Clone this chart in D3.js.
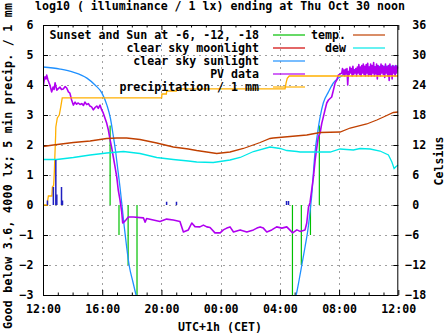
<!DOCTYPE html>
<html><head><meta charset="utf-8">
<script src="https://cdn.jsdelivr.net/npm/d3@7"></script>
<style>
body{margin:0;background:#fff}
text{font-family:"DejaVu Sans Mono",monospace;font-weight:bold;font-size:11.6px;fill:#000}
</style>
</head><body>
<svg id="c" width="447" height="335"></svg>
<script>
// ---------------- data ----------------
const title = "log10 ( illuminance / 1 lx) ending at Thu Oct 30 noon";
const yLabel = "Good below 3.6, 4000 lx; 5 min precip. / 1 mm";
const y2Label = "Celsius";
const xLabel = "UTC+1h (CET)";
const xTickLabels = ["12:00","16:00","20:00","00:00","04:00","08:00","12:00"];
const yTicks = [-3,-2,-1,0,1,2,3,4,5,6];
const y2Ticks = [-18,-12,-6,0,6,12,18,24,30,36];
const legendLeft = ["Sunset and Sun at -6, -12, -18","clear sky moonlight","clear sky sunlight","PV data","precipitation / 1 mm"];
const legendRight = ["temp.","dew"];

// sunset / sunrise and sun at -6, -12, -18 degrees (impulses)
const sunEvents = [["16:32",2.65],["17:08",-1],["17:45",-2],["18:21",-3],
                   ["04:51",-3],["05:27",-2],["06:04",-1],["06:40",2.65]];
// clear sky moonlight (below the plotted range)
const moonlight = [];
// clear sky sunlight
const sunlight = [["12:00",4.6],["13:09",4.53],["14:02",4.43],["14:58",4.23],["15:31",4.0],["15:59",3.73],
  ["16:19",3.33],["16:33",2.9],["16:44",2.35],["16:54",1.8],["17:03",1.2],["17:12",0.6],["17:20",0.0],
  ["17:29",-0.7],["17:39",-1.4],["17:50",-2.05],["18:04",-2.55],["18:17",-3.0],["18:30",-3.45]];
const sunlightMorning = [["04:54",-3.3],["05:06",-3.0],["05:18",-2.5],["05:30",-1.95],["05:42",-1.4],
  ["05:54",-0.8],["06:04",-0.1],["06:11",0.5],["06:17",1.2],["06:23",1.8],["06:31",2.3],["06:43",2.93],
  ["06:56",3.4],["07:17",3.77],["07:37",4.07],["08:04",4.27],["08:45",4.47],["09:37",4.57],["10:46",4.62],["12:00",4.63]];
// PV data
const pv = [["12:00",3.9],["12:04",4.12],["12:08",4.27],["12:12",4.2],["12:15",4.33],["12:20",4.17],["12:24",4.08],
  ["12:28",4.0],["12:35",3.77],["12:41",3.93],["12:45",3.85],["12:49",4.07],["12:56",3.83],["13:02",3.88],["13:09",3.93],
  ["13:15",3.85],["13:22",3.87],["13:30",3.95],["13:36",3.9],["13:43",3.77],["13:49",3.73],["13:56",3.5],["14:03",3.33],
  ["14:10",3.43],["14:16",3.36],["14:23",3.4],["14:30",3.35],["14:37",3.38],["14:44",3.32],["14:50",3.43],["14:57",3.35],
  ["15:04",3.38],["15:10",3.3],["15:17",3.27],["15:24",3.17],["15:31",3.25],["15:38",3.3],["15:44",3.22],["15:51",3.33],
  ["15:58",3.17],["16:04",3.07],["16:11",2.9],["16:18",2.73],["16:25",2.5],["16:32",2.17],["16:38",1.93],["16:45",1.6],
  ["16:52",1.27],["16:59",0.93],["17:05",0.5],["17:12",0.17],["17:19",-0.23],["17:23",-0.6],["17:28",-0.57],["17:36",-0.5],
  ["17:46",-0.4],["18:06",-0.4],["18:47",-0.43],["18:54",-0.57],["19:00",-0.45],["19:27",-0.5],["19:54",-0.55],
  ["20:21",-0.47],["20:48",-0.5],["21:15",-0.55],["21:29",-0.9],["21:49",-0.83],["22:03",-0.6],["22:16",-0.72],
  ["22:36",-0.73],["22:50",-0.67],["23:04",-0.73],["23:17",-0.75],["23:37",-0.93],["23:58",-0.93],["00:11",-0.83],
  ["00:25",-0.77],["00:38",-0.73],["00:52",-0.9],["01:19",-0.83],["01:46",-0.9],["02:13",-0.83],["02:27",-0.77],
  ["02:40",-0.73],["02:53",-0.77],["03:07",-0.9],["03:27",-0.83],["03:47",-0.73],["04:08",-0.77],["04:28",-0.73],
  ["04:52",-0.93],["05:09",-0.83],["05:22",-0.88],["05:42",-0.83],["05:49",-0.6],["05:56",-0.07],["06:02",0.07],
  ["06:09",0.5],["06:16",0.93],["06:23",1.5],["06:30",1.93],["06:36",2.27],["06:43",2.4],["06:50",2.73],["06:56",2.93],
  ["07:03",3.17],["07:10",3.4],["07:17",3.5],["07:30",3.6],["07:37",3.83],["07:44",4.07],["07:51",4.17],["07:57",4.33],
  ["08:11",4.4],["08:14",4.55],["08:17",4.35],["08:20",4.5],["08:23",4.3],["08:26",4.52],["08:29",4.38],["08:32",4.55],
  ["08:35",4.0],["08:38",4.45],["08:41",4.35],["08:44",4.6],["08:47",4.4],["08:50",4.55],["08:53",4.3],["08:56",4.62],
  ["08:59",4.35],["09:02",4.5],["09:05",4.4],["09:08",4.55],["09:11",4.3],["09:14",4.6],["09:17",4.4],["09:20",4.68],
  ["09:23",4.35],["09:26",4.6],["09:29",4.3],["09:32",4.65],["09:35",4.4],["09:38",4.7],["09:41",4.35],["09:44",4.62],
  ["09:47",4.3],["09:50",4.68],["09:53",4.4],["09:56",4.72],["09:59",4.3],["10:02",4.6],["10:05",4.35],["10:08",4.7],
  ["10:11",4.3],["10:14",4.65],["10:17",4.4],["10:20",4.75],["10:23",4.3],["10:26",4.6],["10:29",4.38],["10:32",4.7],
  ["10:35",4.2],["10:38",4.65],["10:41",4.35],["10:44",4.6],["10:47",4.3],["10:50",4.7],["10:53",4.4],["10:56",4.65],
  ["10:59",4.35],["11:02",4.6],["11:05",4.25],["11:08",4.7],["11:11",4.4],["11:14",4.6],["11:17",4.3],["11:20",4.65],
  ["11:23",4.15],["11:26",4.7],["11:29",4.35],["11:32",4.6],["11:35",4.2],["11:38",4.65],["11:41",4.4],["11:44",4.6],
  ["11:47",4.3],["11:50",4.65],["11:53",4.4],["11:56",4.6],["12:00",4.55]];
// cumulative precipitation / 1 mm
const precipCum = [["12:00",0],["12:18",0],["12:19",0.15],["12:22",0.3],["12:36",0.3],["12:38",0.6],["12:43",0.65],
  ["12:46",1.1],["12:48",1.6],["12:51",2.27],["12:52",2.6],["12:58",2.9],["13:06",3.0],["13:12",3.27],["13:18",3.57],
  ["20:01",3.57],["20:02",3.7],["20:20",3.7],["20:21",3.8],["21:00",3.8],["21:01",3.87],["04:21",3.87],["04:25",4.06],
  ["04:30",4.22],["04:38",4.3],["12:00",4.3]];
// 5 min precipitation bars
const precipBars = [["12:18",0.15],["12:42",0.6],["12:52",1.5],["12:56",0.35],["13:15",0.6],["13:19",0.15],
  ["20:21",0.11],["21:01",0.11],["04:27",0.13],["04:35",0.13]];
// temperature and dew point, Celsius
const temp = [["12:00",11.7],["12:42",12.0],["14:03",12.5],["15:11",12.8],["16:18",13.3],["16:59",13.4],["17:39",13.4],
  ["18:33",13.1],["19:41",12.4],["20:48",11.6],["21:49",11.2],["22:23",10.9],["23:44",10.3],["00:38",10.6],["01:32",11.3],
  ["02:40",12.5],["03:20",13.3],["03:33",13.4],["04:41",13.7],["05:49",14.0],["06:43",14.5],["08:04",14.6],["08:45",15.4],
  ["09:52",16.2],["10:33",17.0],["11:00",17.6],["11:40",18.5],["12:00",18.6]];
const dew = [["12:00",9.1],["12:56",9.1],["14:03",9.5],["15:11",10.0],["16:18",10.4],["17:26",10.7],["18:33",10.3],
  ["19:41",9.5],["20:48",9.1],["21:49",8.8],["22:23",8.6],["23:30",8.5],["00:38",9.0],["01:19",9.5],["02:13",10.7],
  ["03:20",11.6],["04:01",11.3],["04:28",10.9],["05:09",10.7],["05:22",10.6],["07:24",10.6],["08:04",11.2],["08:58",11.0],
  ["09:25",11.3],["10:06",11.2],["10:46",10.8],["11:20",10.0],["11:34",8.6],["11:43",7.3],["11:51",7.7],["12:00",8.0]];

// ---------------- helpers ----------------
function parseSeries(arr){
  let prev = -Infinity;
  return arr.map(([s,v])=>{
    const [H,M] = s.split(":").map(Number);
    let h = ((H-12+24)%24) + M/60;
    if (h < prev - 1e-9) h += 24;
    prev = h;
    return {t:h, v:v};
  });
}

const W = 447, H = 335;
const m = {l:43, r:398.3, t:25, b:295};
const svg = d3.select("#c");
const x = d3.scaleLinear().domain([0,24]).range([m.l, m.r]);
const y = d3.scaleLinear().domain([-3,6]).range([m.b, m.t]);
const y2 = d3.scaleLinear().domain([-18,36]).range([m.b, m.t]);

const col = {sun:"#00c000", moon:"#d00000", sunlight:"#1e90ff", pv:"#b000f0", precip:"#ffb000",
             temp:"#c04000", dew:"#00e8e8", bars:"#2020c0"};

svg.append("defs").append("clipPath").attr("id","clip")
  .append("rect").attr("x",m.l).attr("y",m.t).attr("width",m.r-m.l).attr("height",m.b-m.t);

// grid
const grid = svg.append("g").attr("stroke","#a0a0a0").attr("stroke-dasharray","2,4").attr("stroke-width",1);
[4,8,12,16,20].forEach(h=>{
  grid.append("line").attr("x1",Math.round(x(h))+0.5).attr("x2",Math.round(x(h))+0.5).attr("y1",m.t).attr("y2",m.b);
});
yTicks.filter(v=>v>-3 && v<6).forEach(v=>{
  grid.append("line").attr("y1",Math.round(y(v))+0.5).attr("y2",Math.round(y(v))+0.5).attr("x1",m.l).attr("x2",m.r);
});

// axes
const majorX = d3.range(0,25,4);
const minorX = d3.range(0,25,1).filter(h=>h%4!==0);
const fmtX = (d)=>xTickLabels[d/4];

const gB = svg.append("g").attr("transform",`translate(0,${m.b})`)
  .call(d3.axisBottom(x).tickValues(majorX).tickFormat(fmtX).tickSize(-5).tickPadding(9.8));
svg.append("g").attr("transform",`translate(0,${m.b})`)
  .call(d3.axisBottom(x).tickValues(minorX).tickFormat("").tickSize(-2.5));
svg.append("g").attr("transform",`translate(0,${m.t})`)
  .call(d3.axisTop(x).tickValues(majorX).tickFormat("").tickSize(-5));
svg.append("g").attr("transform",`translate(0,${m.t})`)
  .call(d3.axisTop(x).tickValues(minorX).tickFormat("").tickSize(-2.5));
svg.append("g").attr("transform",`translate(${m.l},0)`)
  .call(d3.axisLeft(y).tickValues(yTicks).tickFormat(d3.format("d")).tickSize(-5).tickPadding(9.5));
const gR = svg.append("g").attr("transform",`translate(${m.r},0)`)
  .call(d3.axisRight(y2).tickValues(y2Ticks).tickFormat(d3.format("d")).tickSize(-5).tickPadding(7));
gR.selectAll(".tick text").attr("dx", d=> d>=0 ? "0.602em" : 0);
svg.selectAll(".domain").remove();
svg.selectAll(".tick line").attr("stroke","#000");
svg.selectAll(".tick text").attr("fill","#000").style("font-family",'"DejaVu Sans Mono",monospace')
  .style("font-weight","bold").style("font-size","11.6px");

// data layer
const plot = svg.append("g").attr("clip-path","url(#clip)");
const lineY = d3.line().x(d=>x(d.t)).y(d=>y(d.v));
const lineY2 = d3.line().x(d=>x(d.t)).y(d=>y2(d.v));

// sun events
plot.append("g").selectAll("line").data(parseSeries(sunEvents)).join("line")
  .attr("x1",d=>x(d.t)).attr("x2",d=>x(d.t)).attr("y1",y(0)).attr("y2",d=>y(d.v))
  .attr("stroke",col.sun).attr("stroke-width",1.2);
if (moonlight.length) plot.append("path").attr("d",lineY(parseSeries(moonlight))).attr("fill","none").attr("stroke",col.moon);
// sunlight
[sunlight, sunlightMorning].forEach(s=>{
  plot.append("path").attr("d",lineY.curve(d3.curveMonotoneX)(parseSeries(s)))
    .attr("fill","none").attr("stroke",col.sunlight).attr("stroke-width",1.3);
});
lineY.curve(d3.curveLinear);
// PV
plot.append("path").attr("d",lineY(parseSeries(pv))).attr("fill","none").attr("stroke",col.pv).attr("stroke-width",1.6)
  .attr("stroke-linejoin","round");
// precipitation cumulative
plot.append("path").attr("d",lineY(parseSeries(precipCum))).attr("fill","none").attr("stroke",col.precip).attr("stroke-width",1.3);
// temperature & dew
plot.append("path").attr("d",lineY2(parseSeries(temp))).attr("fill","none").attr("stroke",col.temp).attr("stroke-width",1.3);
plot.append("path").attr("d",lineY2(parseSeries(dew))).attr("fill","none").attr("stroke",col.dew).attr("stroke-width",1.3);
// precip bars
plot.append("g").selectAll("line").data(parseSeries(precipBars)).join("line")
  .attr("x1",d=>x(d.t)).attr("x2",d=>x(d.t)).attr("y1",y(0)).attr("y2",d=>y(d.v))
  .attr("stroke",col.bars).attr("stroke-width",1.5);

// border
svg.append("rect").attr("x",m.l+0.5).attr("y",m.t+0.5).attr("width",m.r-m.l-1).attr("height",m.b-m.t)
  .attr("fill","none").attr("stroke","#000").attr("stroke-width",1);

// legend
const legColors1 = [col.sun,col.moon,col.sunlight,col.pv,col.precip];
const legColors2 = [col.temp,col.dew];
const leg = svg.append("g");
legendLeft.forEach((t,i)=>{
  const yy = 35 + i*13;
  leg.append("text").attr("x",259).attr("y",yy).attr("dy","0.35em").attr("text-anchor","end").text(t);
  leg.append("line").attr("x1",273).attr("x2",305).attr("y1",yy).attr("y2",yy).attr("stroke",legColors1[i]).attr("stroke-width",1.2);
});
legendRight.forEach((t,i)=>{
  const yy = 35 + i*13;
  leg.append("text").attr("x",346).attr("y",yy).attr("dy","0.35em").attr("text-anchor","end").text(t);
  leg.append("line").attr("x1",353).attr("x2",385).attr("y1",yy).attr("y2",yy).attr("stroke",legColors2[i]).attr("stroke-width",1.2);
});

// titles
svg.append("text").attr("x",220).attr("y",10).attr("text-anchor","middle").text(title);
svg.append("text").attr("x",220).attr("y",331).attr("text-anchor","middle").text(xLabel);
svg.append("text").attr("transform","translate(12,166) rotate(-90)").attr("text-anchor","middle")
  .attr("textLength",326).attr("lengthAdjust","spacing").text(yLabel);
svg.append("text").attr("transform","translate(443,161) rotate(-90)").attr("text-anchor","middle").text(y2Label);
</script>
</body></html>
